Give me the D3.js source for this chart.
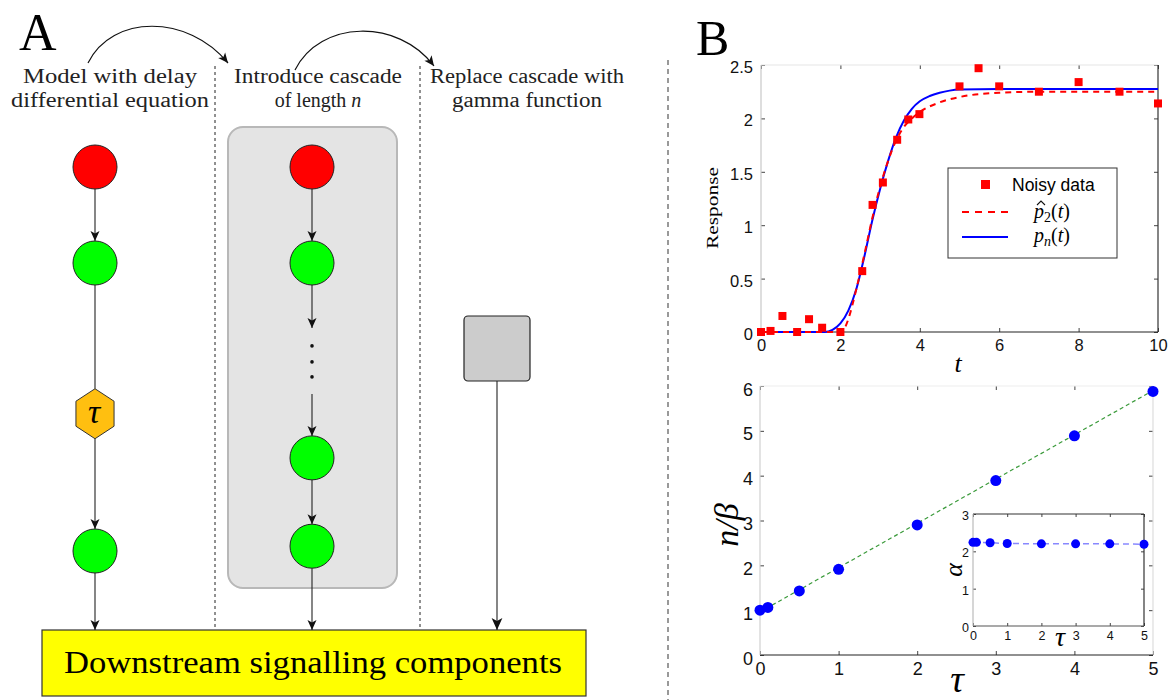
<!DOCTYPE html>
<html>
<head>
<meta charset="utf-8">
<script src="https://cdn.jsdelivr.net/npm/d3@7"></script>
<style>
  body { margin: 0; background: #fff; }
  svg { display: block; }
</style>
</head>
<body>
<svg id="fig" width="1175" height="700"></svg>
<script>
// ---------- Data: panel B, top (response over time) ----------
const noisyT = [0, 0.24, 0.54, 0.91, 1.21, 1.54, 2.0, 2.55, 2.81, 3.07, 3.43, 3.71, 3.99, 5.0, 5.48, 6.0, 7.0, 8.0, 9.03, 10.0];
const noisyY = [0, 0.01, 0.15, 0, 0.12, 0.04, 0, 0.57, 1.19, 1.40, 1.80, 1.99, 2.04, 2.30, 2.47, 2.30, 2.25, 2.34, 2.25, 2.14];

const pnT = [0, 1.6, 1.8, 2.0, 2.2, 2.4, 2.6, 2.8, 3.0, 3.2, 3.4, 3.6, 3.8, 4.0, 4.25, 4.5, 4.75, 5.0, 6.0, 8.0, 10.0];
const pnY = [0, 0, 0.02, 0.08, 0.2, 0.4, 0.7, 1.04, 1.34, 1.6, 1.82, 1.98, 2.09, 2.16, 2.21, 2.24, 2.26, 2.27, 2.275, 2.275, 2.275];

const p2T = [0, 2.05, 2.1, 2.2, 2.3, 2.4, 2.6, 2.8, 3.0, 3.2, 3.4, 3.6, 3.8, 4.0, 4.5, 5.0, 6.0, 7.0, 8.0, 10.0];
const p2Y = [0, 0, 0.03, 0.12, 0.25, 0.4, 0.72, 1.06, 1.36, 1.6, 1.79, 1.92, 2.0, 2.06, 2.15, 2.2, 2.24, 2.25, 2.25, 2.25];

const respTicks = [0, 0.5, 1, 1.5, 2, 2.5];
const timeTicks = [0, 2, 4, 6, 8, 10];

// ---------- Data: panel B, bottom (n/beta and alpha against tau) ----------
const tau = [0, 0.1, 0.5, 1, 2, 3, 4, 5];
const nOverBeta = [1.0, 1.06, 1.43, 1.91, 2.9, 3.89, 4.89, 5.88];
const alphaFit = [2.24, 2.24, 2.23, 2.21, 2.2, 2.2, 2.2, 2.19];
const lineTau = [0, 5];
const lineNB = [0.96, 5.9];

const tauTicks = [0, 1, 2, 3, 4, 5];
const nbTicks = [0, 1, 2, 3, 4, 5, 6];
const alphaTicks = [0, 1, 2, 3];

// ---------- Data: panel A (schematic) ----------
const stepTitles = [
  ["Model with delay", "differential equation"],
  ["Introduce cascade", "of length "],
  ["Replace cascade with", "gamma function"]
];
const delayChain = ["source", "species", "delay", "species"];
const cascadeChain = ["source", "species", "ellipsis", "species", "species"];
const downstreamLabel = "Downstream signalling components";

// ---------- Drawing ----------
const svg = d3.select("#fig");
const serif = "'Liberation Serif', 'DejaVu Serif', serif";
const sans = "'Liberation Sans', Arial, sans-serif";

const defs = svg.append("defs");
function addArrow(id, w, h) {
  defs.append("marker")
    .attr("id", id)
    .attr("viewBox", "0 0 10 10")
    .attr("refX", 10).attr("refY", 5)
    .attr("markerWidth", w).attr("markerHeight", h)
    .attr("markerUnits", "userSpaceOnUse")
    .attr("orient", "auto")
    .append("path")
    .attr("d", "M0,0.5 L10,5 L0,9.5 L2.5,5 Z")
    .attr("fill", "#111");
}
addArrow("arr", 12, 10);
addArrow("arrBig", 15, 12);

// ===== Panel A =====
const A = svg.append("g");
A.append("text").attr("x", 19).attr("y", 50)
  .attr("font-family", serif).attr("font-size", 52).text("A");

// column centres and row scale for the schematic
const colX = d3.scaleOrdinal().domain([0, 1, 2]).range([95, 312, 497]);
const titleX = d3.scaleOrdinal().domain([0, 1, 2]).range([110, 318, 527]);
const titleW = [[174, 198], [168, 106], [194, 150]];
const yRow = d3.scaleLinear().domain([0, 1]).range([167, 263]);
const nodeR = 22;

// step titles
stepTitles.forEach((lines, i) => {
  lines.forEach((s, j) => {
    const t = A.append("text")
      .attr("x", titleX(i)).attr("y", 83 + j * 24)
      .attr("text-anchor", "middle")
      .attr("font-family", serif).attr("font-size", 20)
      .attr("fill", "#222");
    if (i === 1 && j === 1) {
      t.append("tspan").text(s);
      t.append("tspan").attr("font-style", "italic").text("n");
    } else {
      t.text(s).attr("textLength", titleW[i][j]).attr("lengthAdjust", "spacingAndGlyphs");
    }
  });
});

// curved transition arrows between steps
A.append("path").attr("d", "M88,63 C112,14 188,14 228,63")
  .attr("fill", "none").attr("stroke", "#111").attr("stroke-width", 1.2)
  .attr("marker-end", "url(#arr)");
A.append("path").attr("d", "M295,70 C320,20 398,18 434,66")
  .attr("fill", "none").attr("stroke", "#111").attr("stroke-width", 1.2)
  .attr("marker-end", "url(#arr)");

// separators between steps
[215, 420].forEach(x => {
  A.append("line").attr("x1", x).attr("x2", x).attr("y1", 66).attr("y2", 630)
    .attr("stroke", "#222").attr("stroke-width", 1).attr("stroke-dasharray", "3,3");
});

// cascade enclosure
A.append("rect").attr("x", 228).attr("y", 127).attr("width", 169).attr("height", 461)
  .attr("rx", 15).attr("fill", "#e4e4e4").attr("stroke", "#b8b8b8").attr("stroke-width", 2);

// downstream box
const boxTop = 630;
A.append("rect").attr("x", 42).attr("y", boxTop).attr("width", 544).attr("height", 66)
  .attr("fill", "#ffff00").attr("stroke", "#333").attr("stroke-width", 1.2);
A.append("text").attr("x", 313).attr("y", 673).attr("text-anchor", "middle")
  .attr("font-family", serif).attr("font-size", 31)
  .attr("textLength", 498).attr("lengthAdjust", "spacingAndGlyphs")
  .text(downstreamLabel);

const fillFor = { source: "#ff0000", species: "#00ff00" };

function link(x, y1, y2, arrow, marker) {
  A.append("line").attr("x1", x).attr("x2", x).attr("y1", y1).attr("y2", y2)
    .attr("stroke", "#222").attr("stroke-width", 1.1)
    .attr("marker-end", arrow ? `url(#${marker || "arr"})` : null);
}

function drawNode(kind, x, y) {
  if (kind === "source" || kind === "species") {
    A.append("circle").attr("cx", x).attr("cy", y).attr("r", nodeR)
      .attr("fill", fillFor[kind]).attr("stroke", "#222").attr("stroke-width", 1);
  } else if (kind === "delay") {
    const pts = d3.range(6).map(k => {
      const a = Math.PI / 2 + k * Math.PI / 3;
      return [x + 22 * Math.cos(a), y - 25 * Math.sin(a)];
    });
    A.append("path").attr("d", d3.line()(pts) + "Z")
      .attr("fill", "#ffbf10").attr("stroke", "#333").attr("stroke-width", 1);
    A.append("text").attr("x", x - 1).attr("y", y + 9).attr("text-anchor", "middle")
      .attr("font-family", serif).attr("font-style", "italic").attr("font-size", 34)
      .text("τ");
  } else if (kind === "ellipsis") {
    [-16, 0, 15].forEach(d => {
      A.append("circle").attr("cx", x).attr("cy", y + d).attr("r", 1.8).attr("fill", "#111");
    });
  }
}

// half-extent of each node kind along the chain
const extent = { source: nodeR, species: nodeR, delay: 25, ellipsis: 0 };

// delay model chain
const delayRows = [0, 1, 2.57, 4.0];
delayChain.forEach((k, i) => {
  const x = colX(0), y = yRow(delayRows[i]);
  if (i > 0) {
    const yp = yRow(delayRows[i - 1]) + extent[delayChain[i - 1]];
    link(x, yp, y - extent[k], k !== "delay");
  }
});
link(colX(0), yRow(4.0) + nodeR, boxTop, true);
delayChain.forEach((k, i) => drawNode(k, colX(0), yRow(delayRows[i])));

// cascade chain
const cascadeRows = [0, 1, 2.03, 3.03, 3.95];
cascadeChain.forEach((k, i) => {
  const x = colX(1), y = yRow(cascadeRows[i]);
  if (k === "ellipsis") {
    link(x, yRow(cascadeRows[i - 1]) + nodeR, y - 34, true);
  } else if (i > 0) {
    const prev = cascadeChain[i - 1];
    const yp = prev === "ellipsis" ? yRow(cascadeRows[i - 1]) + 32 : yRow(cascadeRows[i - 1]) + nodeR;
    link(x, yp, y - nodeR, true);
  }
});
link(colX(1), yRow(3.95) + nodeR, boxTop, true);
cascadeChain.forEach((k, i) => drawNode(k, colX(1), yRow(cascadeRows[i])));

// gamma-function block
link(colX(2), 381, boxTop, true, "arrBig");
A.append("rect").attr("x", colX(2) - 33).attr("y", 316).attr("width", 66).attr("height", 65)
  .attr("rx", 4).attr("fill", "#cccccc").attr("stroke", "#222").attr("stroke-width", 1.2);

// divider between panels
svg.append("line").attr("x1", 668).attr("x2", 668).attr("y1", 60).attr("y2", 700)
  .attr("stroke", "#999").attr("stroke-width", 2).attr("stroke-dasharray", "5,4");

// ===== Panel B =====
svg.append("text").attr("x", 696).attr("y", 55)
  .attr("font-family", serif).attr("font-size", 50).text("B");

function axes(g, x, y, xt, yt, opt) {
  const [xl, xr] = x.range();
  const [yb, yt0] = y.range();
  const tk = opt.tick;
  const fmt = d3.format("~g");
  const bottom = g.append("g").attr("transform", `translate(0,${yb})`)
    .call(d3.axisBottom(x).tickValues(xt).tickSize(-tk).tickPadding(opt.xpad).tickFormat(fmt));
  const left = g.append("g").attr("transform", `translate(${xl},0)`)
    .call(d3.axisLeft(y).tickValues(yt).tickSize(-tk).tickPadding(opt.ypad).tickFormat(fmt));
  const top = g.append("g").attr("transform", `translate(0,${yt0})`)
    .call(d3.axisTop(x).tickValues(xt).tickSize(-tk).tickFormat(""));
  const right = g.append("g").attr("transform", `translate(${xr},0)`)
    .call(d3.axisRight(y).tickValues(yt).tickSize(-tk).tickFormat(""));
  [bottom, left, top, right].forEach(a => {
    a.select(".domain").remove();
    a.selectAll(".tick line").attr("stroke", "#444").attr("stroke-width", 1);
    a.selectAll("text").attr("font-family", sans).attr("font-size", opt.fs).attr("fill", "#111");
  });
  left.selectAll("text").attr("dy", opt.ydy);
  bottom.selectAll("text").attr("dy", opt.xdy);
  // frame edges
  const edge = (x1, y1, x2, y2, c) => g.append("line")
    .attr("x1", x1).attr("y1", y1).attr("x2", x2).attr("y2", y2)
    .attr("stroke", c).attr("stroke-width", 1.2);
  edge(xl, yt0, xr, yt0, opt.colors[0]);
  edge(xr, yt0, xr, yb, opt.colors[1]);
  edge(xl, yb, xr, yb, opt.colors[2]);
  edge(xl, yt0, xl, yb, opt.colors[3]);
}

// --- top plot ---
const gTop = svg.append("g");
const xT = d3.scaleLinear().domain([0, 10]).range([761, 1158]);
const yT = d3.scaleLinear().domain([0, 2.5]).range([332, 65]);
axes(gTop, xT, yT, timeTicks, respTicks, {
  tick: 4, xpad: 6, ypad: 8, fs: 16.5, ydy: "0.45em", xdy: "0.8em",
  colors: ["#e6e6e6", "#333", "#222", "#c8c8c8"]
});

gTop.append("text")
  .attr("transform", `translate(718,208) rotate(-90)`)
  .attr("text-anchor", "middle").attr("font-family", serif).attr("font-size", 17)
  .attr("textLength", 82).attr("lengthAdjust", "spacingAndGlyphs")
  .text("Response");
gTop.append("text").attr("x", 958).attr("y", 372).attr("text-anchor", "middle")
  .attr("font-family", serif).attr("font-style", "italic").attr("font-size", 26).text("t");

const lineGen = d3.line().curve(d3.curveMonotoneX);
gTop.append("path")
  .attr("d", lineGen(pnT.map((t, i) => [xT(t), yT(pnY[i])])))
  .attr("fill", "none").attr("stroke", "#0000ff").attr("stroke-width", 2);
gTop.append("path")
  .attr("d", lineGen(p2T.map((t, i) => [xT(t), yT(p2Y[i])])))
  .attr("fill", "none").attr("stroke", "#ff0000").attr("stroke-width", 2)
  .attr("stroke-dasharray", "6,5");
gTop.selectAll("rect.obs").data(noisyT).join("rect").attr("class", "obs")
  .attr("x", d => xT(d) - 4).attr("y", (d, i) => yT(noisyY[i]) - 4)
  .attr("width", 8).attr("height", 8).attr("fill", "#ff0000");

// legend
const lg = gTop.append("g");
lg.append("rect").attr("x", 948).attr("y", 168).attr("width", 169).attr("height", 90)
  .attr("fill", "#fff").attr("stroke", "#333").attr("stroke-width", 1);
lg.append("rect").attr("x", 981).attr("y", 180).attr("width", 9).attr("height", 9).attr("fill", "#ff0000");
lg.append("text").attr("x", 1012).attr("y", 191).attr("font-family", sans).attr("font-size", 17.5)
  .text("Noisy data");
lg.append("line").attr("x1", 962).attr("x2", 1008).attr("y1", 212).attr("y2", 212)
  .attr("stroke", "#ff0000").attr("stroke-width", 2.2).attr("stroke-dasharray", "7,6");
lg.append("line").attr("x1", 962).attr("x2", 1008).attr("y1", 237).attr("y2", 237)
  .attr("stroke", "#0000ff").attr("stroke-width", 2.2);

function mathLabel(g, x, y, sub, hat) {
  const t = g.append("text").attr("x", x).attr("y", y)
    .attr("font-family", serif).attr("font-size", 20);
  t.append("tspan").attr("font-style", "italic").text("p");
  t.append("tspan").attr("font-size", 14).attr("dy", 4)
    .attr("font-style", sub === "n" ? "italic" : "normal").text(sub);
  t.append("tspan").attr("dy", -4).text("(");
  t.append("tspan").attr("font-style", "italic").text("t");
  t.append("tspan").text(")");
  if (hat) {
    // circumflex accent drawn above the p
    g.append("path")
      .attr("d", `M${x + 3},${y - 13} L${x + 7},${y - 17} L${x + 11},${y - 13}`)
      .attr("fill", "none").attr("stroke", "#111").attr("stroke-width", 1.1);
  }
}
mathLabel(lg, 1034, 218, "2", true);
mathLabel(lg, 1034, 242, "n", false);

// --- bottom plot ---
const gBot = svg.append("g");
const xB = d3.scaleLinear().domain([0, 5]).range([760, 1153]);
const yB = d3.scaleLinear().domain([0, 6]).range([655, 386]);
axes(gBot, xB, yB, tauTicks, nbTicks, {
  tick: 4, xpad: 6, ypad: 7, fs: 18, ydy: "0.5em", xdy: "0.8em",
  colors: ["#eeeeee", "#dddddd", "#222", "#d0d0d0"]
});

gBot.append("path")
  .attr("d", d3.line()(lineTau.map((t, i) => [xB(t), yB(lineNB[i])])))
  .attr("fill", "none").attr("stroke", "#3a9a3a").attr("stroke-width", 1.2)
  .attr("stroke-dasharray", "4,3");
gBot.selectAll("circle.nb").data(tau).join("circle").attr("class", "nb")
  .attr("cx", d => xB(d)).attr("cy", (d, i) => yB(nOverBeta[i]))
  .attr("r", 5.5).attr("fill", "#0000ff");

gBot.append("text")
  .attr("transform", `translate(738,525) rotate(-90)`)
  .attr("text-anchor", "middle").attr("font-family", serif).attr("font-style", "italic")
  .attr("font-size", 34).text("n/β");
gBot.append("text").attr("x", 957).attr("y", 692).attr("text-anchor", "middle")
  .attr("font-family", serif).attr("font-style", "italic").attr("font-size", 38).text("τ");

// inset: alpha against tau
const gIn = svg.append("g");
const xI = d3.scaleLinear().domain([0, 5]).range([973, 1144]);
const yI = d3.scaleLinear().domain([0, 3]).range([626, 514]);
gIn.append("rect").attr("x", 973).attr("y", 514).attr("width", 171).attr("height", 112).attr("fill", "#fff");
axes(gIn, xI, yI, tauTicks, alphaTicks, {
  tick: 3, xpad: 5, ypad: 4, fs: 12.5, ydy: "0.45em", xdy: "0.75em",
  colors: ["#333", "#333", "#555", "#bbbbbb"]
});
gIn.append("path")
  .attr("d", d3.line()(tau.map((t, i) => [xI(t), yI(alphaFit[i])])))
  .attr("fill", "none").attr("stroke", "#5555ff").attr("stroke-opacity", 0.7).attr("stroke-width", 1.5)
  .attr("stroke-dasharray", "6,4");
gIn.selectAll("circle.al").data(tau).join("circle").attr("class", "al")
  .attr("cx", d => xI(d)).attr("cy", (d, i) => yI(alphaFit[i]))
  .attr("r", 4.5).attr("fill", "#0000ff");
gIn.append("text")
  .attr("transform", `translate(962,570) rotate(-90)`)
  .attr("text-anchor", "middle").attr("font-family", serif).attr("font-style", "italic")
  .attr("font-size", 26).text("α");
gIn.append("text").attr("x", 1060).attr("y", 646).attr("text-anchor", "middle")
  .attr("font-family", serif).attr("font-style", "italic").attr("font-size", 28).text("τ");
</script>
</body>
</html>
